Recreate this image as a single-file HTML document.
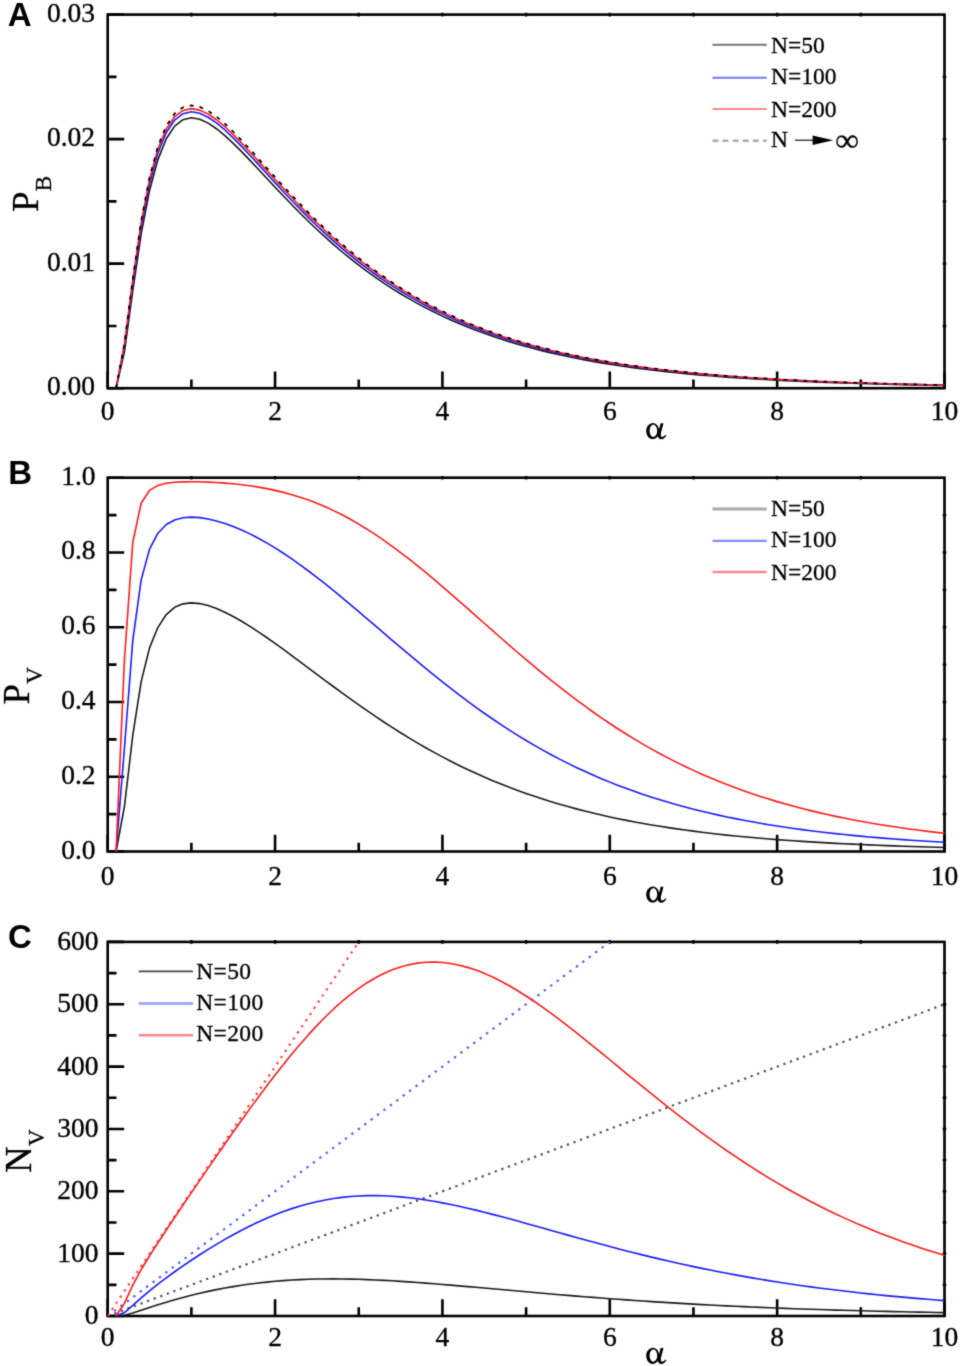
<!DOCTYPE html>
<html><head><meta charset="utf-8"><style>
html,body{margin:0;padding:0;background:#fff;}
svg{display:block;}
.tk{font-family:"Liberation Serif",serif;font-size:27.5px;fill:#000;stroke:#000;stroke-width:0.35px;}
.lg{font-family:"Liberation Serif",serif;font-size:23.5px;fill:#000;stroke:#000;stroke-width:0.3px;}
.lgc{letter-spacing:0.4px;}
.pl{font-family:"Liberation Sans",sans-serif;font-size:33px;font-weight:bold;fill:#000;}
.yl{font-family:"Liberation Serif",serif;font-size:37px;fill:#000;stroke:#000;stroke-width:0.3px;}
.ys{font-size:23.5px;}
</style></head><body>
<svg width="961" height="1366" viewBox="0 0 961 1366">
<defs><filter id="soft" x="0" y="0" width="961" height="1366" filterUnits="userSpaceOnUse" color-interpolation-filters="sRGB"><feConvolveMatrix order="3" kernelMatrix="1 2 1 2 16 2 1 2 1" divisor="28" edgeMode="duplicate"/></filter><clipPath id="clipC"><rect x="107.7" y="941.9" width="836.80" height="374.10"/></clipPath></defs>
<g filter="url(#soft)">
<rect width="961" height="1366" fill="#fff"/>
<rect x="107.7" y="14.6" width="836.80" height="373.60" fill="none" stroke="#000" stroke-width="2.6"/>
<path d="M107.70,388.2V371.50M191.38,388.2V379.40M275.06,388.2V371.50M358.74,388.2V379.40M442.42,388.2V371.50M526.10,388.2V379.40M609.78,388.2V371.50M693.46,388.2V379.40M777.14,388.2V371.50M860.82,388.2V379.40M944.50,388.2V371.50M107.7,388.20H124.20M107.7,263.67H124.20M107.7,139.13H124.20M107.7,14.60H124.20M107.7,325.93H116.50M107.7,201.40H116.50M107.7,76.87H116.50" stroke="#000" stroke-width="2.6" fill="none"/>
<path d="M191.38,12.80V16.40M275.06,12.80V16.40M358.74,12.80V16.40M442.42,12.80V16.40M526.10,12.80V16.40M609.78,12.80V16.40M693.46,12.80V16.40M777.14,12.80V16.40M860.82,12.80V16.40M942.70,263.67H946.30M942.70,139.13H946.30M942.70,325.93H946.30M942.70,201.40H946.30M942.70,76.87H946.30" stroke="#000" stroke-width="2.4" fill="none"/>
<text x="95.0" y="395.20" text-anchor="end" class="tk">0.00</text>
<text x="95.0" y="270.67" text-anchor="end" class="tk">0.01</text>
<text x="95.0" y="146.13" text-anchor="end" class="tk">0.02</text>
<text x="95.0" y="21.60" text-anchor="end" class="tk">0.03</text>
<text x="107.70" y="419.5" text-anchor="middle" class="tk">0</text>
<text x="275.06" y="419.5" text-anchor="middle" class="tk">2</text>
<text x="442.42" y="419.5" text-anchor="middle" class="tk">4</text>
<text x="609.78" y="419.5" text-anchor="middle" class="tk">6</text>
<text x="777.14" y="419.5" text-anchor="middle" class="tk">8</text>
<text x="944.50" y="419.5" text-anchor="middle" class="tk">10</text>
<path d="M116.07,388.20 L124.44,351.61 L132.80,290.48 L141.17,233.95 L149.54,190.47 L157.91,159.65 L166.28,138.78 L174.64,126.14 L183.01,119.69 L191.38,117.82 L199.75,119.28 L208.12,123.13 L216.48,128.73 L224.85,135.58 L233.22,143.32 L241.59,151.65 L249.96,160.36 L258.32,169.27 L266.69,178.25 L275.06,187.21 L283.43,196.06 L291.80,204.75 L300.16,213.24 L308.53,221.49 L316.90,229.47 L325.27,237.18 L333.64,244.61 L342.00,251.75 L350.37,258.59 L358.74,265.15 L367.11,271.42 L375.48,277.40 L383.84,283.12 L392.21,288.56 L400.58,293.75 L408.95,298.68 L417.32,303.37 L425.68,307.84 L434.05,312.08 L442.42,316.10 L450.79,319.92 L459.16,323.55 L467.52,326.99 L475.89,330.25 L484.26,333.34 L492.63,336.27 L501.00,339.05 L509.36,341.68 L517.73,344.17 L526.10,346.53 L534.47,348.77 L542.84,350.88 L551.20,352.89 L559.57,354.78 L567.94,356.58 L576.31,358.28 L584.68,359.88 L593.04,361.40 L601.41,362.84 L609.78,364.21 L618.15,365.49 L626.52,366.71 L634.88,367.87 L643.25,368.96 L651.62,369.99 L659.99,370.97 L668.36,371.89 L676.72,372.76 L685.09,373.59 L693.46,374.37 L701.83,375.11 L710.20,375.81 L718.56,376.48 L726.93,377.10 L735.30,377.69 L743.67,378.25 L752.04,378.79 L760.40,379.29 L768.77,379.76 L777.14,380.21 L785.51,380.64 L793.88,381.04 L802.24,381.42 L810.61,381.78 L818.98,382.12 L827.35,382.44 L835.72,382.74 L844.08,383.03 L852.45,383.31 L860.82,383.56 L869.19,383.81 L877.56,384.04 L885.92,384.26 L894.29,384.47 L902.66,384.66 L911.03,384.85 L919.40,385.02 L927.76,385.19 L936.13,385.35 L944.50,385.50" fill="none" stroke="#1a1a1a" stroke-width="1.6" stroke-linejoin="round"/>
<path d="M116.07,388.20 L124.44,346.63 L132.80,284.06 L141.17,227.23 L149.54,183.75 L157.91,153.01 L166.28,132.50 L174.64,120.05 L183.01,113.67 L191.38,111.82 L199.75,113.31 L208.12,117.24 L216.48,122.96 L224.85,129.96 L233.22,137.86 L241.59,146.37 L249.96,155.26 L258.32,164.35 L266.69,173.52 L275.06,182.65 L283.43,191.68 L291.80,200.54 L300.16,209.18 L308.53,217.59 L316.90,225.72 L325.27,233.57 L333.64,241.14 L342.00,248.40 L350.37,255.37 L358.74,262.04 L367.11,268.41 L375.48,274.51 L383.84,280.32 L392.21,285.86 L400.58,291.13 L408.95,296.15 L417.32,300.93 L425.68,305.47 L434.05,309.78 L442.42,313.88 L450.79,317.76 L459.16,321.46 L467.52,324.96 L475.89,328.28 L484.26,331.43 L492.63,334.41 L501.00,337.24 L509.36,339.93 L517.73,342.47 L526.10,344.88 L534.47,347.16 L542.84,349.32 L551.20,351.37 L559.57,353.31 L567.94,355.14 L576.31,356.88 L584.68,358.53 L593.04,360.09 L601.41,361.56 L609.78,362.96 L618.15,364.28 L626.52,365.54 L634.88,366.72 L643.25,367.85 L651.62,368.91 L659.99,369.92 L668.36,370.87 L676.72,371.77 L685.09,372.63 L693.46,373.44 L701.83,374.20 L710.20,374.93 L718.56,375.62 L726.93,376.27 L735.30,376.89 L743.67,377.47 L752.04,378.02 L760.40,378.55 L768.77,379.04 L777.14,379.51 L785.51,379.96 L793.88,380.38 L802.24,380.78 L810.61,381.16 L818.98,381.52 L827.35,381.86 L835.72,382.18 L844.08,382.49 L852.45,382.78 L860.82,383.05 L869.19,383.31 L877.56,383.56 L885.92,383.79 L894.29,384.01 L902.66,384.22 L911.03,384.42 L919.40,384.61 L927.76,384.79 L936.13,384.96 L944.50,385.12" fill="none" stroke="#1a1aff" stroke-width="1.6" stroke-linejoin="round"/>
<path d="M116.07,388.20 L124.44,343.79 L132.80,279.93 L141.17,222.84 L149.54,179.52 L157.91,149.05 L166.28,128.91 L174.64,116.69 L183.01,110.42 L191.38,108.61 L199.75,110.10 L208.12,114.02 L216.48,119.74 L224.85,126.73 L233.22,134.64 L241.59,143.15 L249.96,152.05 L258.32,161.16 L266.69,170.35 L275.06,179.52 L283.43,188.59 L291.80,197.49 L300.16,206.19 L308.53,214.65 L316.90,222.84 L325.27,230.76 L333.64,238.39 L342.00,245.73 L350.37,252.77 L358.74,259.51 L367.11,265.97 L375.48,272.14 L383.84,278.03 L392.21,283.65 L400.58,289.00 L408.95,294.10 L417.32,298.95 L425.68,303.57 L434.05,307.96 L442.42,312.13 L450.79,316.10 L459.16,319.86 L467.52,323.43 L475.89,326.82 L484.26,330.04 L492.63,333.09 L501.00,335.98 L509.36,338.73 L517.73,341.33 L526.10,343.79 L534.47,346.13 L542.84,348.35 L551.20,350.44 L559.57,352.43 L567.94,354.32 L576.31,356.10 L584.68,357.79 L593.04,359.39 L601.41,360.91 L609.78,362.34 L618.15,363.70 L626.52,364.99 L634.88,366.21 L643.25,367.37 L651.62,368.46 L659.99,369.50 L668.36,370.48 L676.72,371.41 L685.09,372.28 L693.46,373.12 L701.83,373.91 L710.20,374.65 L718.56,375.36 L726.93,376.03 L735.30,376.67 L743.67,377.27 L752.04,377.84 L760.40,378.37 L768.77,378.88 L777.14,379.37 L785.51,379.83 L793.88,380.26 L802.24,380.67 L810.61,381.06 L818.98,381.43 L827.35,381.78 L835.72,382.11 L844.08,382.42 L852.45,382.72 L860.82,383.00 L869.19,383.27 L877.56,383.52 L885.92,383.76 L894.29,383.99 L902.66,384.20 L911.03,384.41 L919.40,384.60 L927.76,384.78 L936.13,384.96 L944.50,385.12" fill="none" stroke="#ff1a1a" stroke-width="1.6" stroke-linejoin="round"/>
<path d="M116.07,388.20 L124.44,343.29 L132.80,278.69 L141.17,220.95 L149.54,177.13 L157.91,146.31 L166.28,125.94 L174.64,113.58 L183.01,107.24 L191.38,105.40 L199.75,106.91 L208.12,110.88 L216.48,116.66 L224.85,123.74 L233.22,131.73 L241.59,140.34 L249.96,149.34 L258.32,158.56 L266.69,167.86 L275.06,177.13 L283.43,186.30 L291.80,195.30 L300.16,204.10 L308.53,212.66 L316.90,220.95 L325.27,228.96 L333.64,236.67 L342.00,244.09 L350.37,251.21 L358.74,258.04 L367.11,264.57 L375.48,270.81 L383.84,276.76 L392.21,282.45 L400.58,287.86 L408.95,293.02 L417.32,297.93 L425.68,302.60 L434.05,307.04 L442.42,311.26 L450.79,315.27 L459.16,319.08 L467.52,322.69 L475.89,326.12 L484.26,329.37 L492.63,332.46 L501.00,335.39 L509.36,338.16 L517.73,340.79 L526.10,343.29 L534.47,345.65 L542.84,347.89 L551.20,350.01 L559.57,352.02 L567.94,353.93 L576.31,355.73 L584.68,357.44 L593.04,359.06 L601.41,360.59 L609.78,362.05 L618.15,363.42 L626.52,364.73 L634.88,365.96 L643.25,367.13 L651.62,368.23 L659.99,369.28 L668.36,370.27 L676.72,371.21 L685.09,372.10 L693.46,372.94 L701.83,373.74 L710.20,374.50 L718.56,375.21 L726.93,375.89 L735.30,376.53 L743.67,377.14 L752.04,377.72 L760.40,378.26 L768.77,378.78 L777.14,379.27 L785.51,379.73 L793.88,380.17 L802.24,380.58 L810.61,380.98 L818.98,381.35 L827.35,381.70 L835.72,382.04 L844.08,382.36 L852.45,382.66 L860.82,382.94 L869.19,383.21 L877.56,383.47 L885.92,383.71 L894.29,383.94 L902.66,384.16 L911.03,384.36 L919.40,384.56 L927.76,384.75 L936.13,384.92 L944.50,385.09" fill="none" stroke="#000" stroke-width="1.7" stroke-dasharray="4 6"/>
<rect x="107.7" y="477.7" width="836.80" height="373.80" fill="none" stroke="#000" stroke-width="2.6"/>
<path d="M107.70,851.5V834.80M191.38,851.5V842.70M275.06,851.5V834.80M358.74,851.5V842.70M442.42,851.5V834.80M526.10,851.5V842.70M609.78,851.5V834.80M693.46,851.5V842.70M777.14,851.5V834.80M860.82,851.5V842.70M944.50,851.5V834.80M107.7,851.50H124.20M107.7,776.74H124.20M107.7,701.98H124.20M107.7,627.22H124.20M107.7,552.46H124.20M107.7,477.70H124.20M107.7,814.12H116.50M107.7,739.36H116.50M107.7,664.60H116.50M107.7,589.84H116.50M107.7,515.08H116.50" stroke="#000" stroke-width="2.6" fill="none"/>
<path d="M191.38,475.90V479.50M275.06,475.90V479.50M358.74,475.90V479.50M442.42,475.90V479.50M526.10,475.90V479.50M609.78,475.90V479.50M693.46,475.90V479.50M777.14,475.90V479.50M860.82,475.90V479.50M942.70,776.74H946.30M942.70,701.98H946.30M942.70,627.22H946.30M942.70,552.46H946.30M942.70,814.12H946.30M942.70,739.36H946.30M942.70,664.60H946.30M942.70,589.84H946.30M942.70,515.08H946.30" stroke="#000" stroke-width="2.4" fill="none"/>
<text x="95.5" y="858.50" text-anchor="end" class="tk">0.0</text>
<text x="95.5" y="783.74" text-anchor="end" class="tk">0.2</text>
<text x="95.5" y="708.98" text-anchor="end" class="tk">0.4</text>
<text x="95.5" y="634.22" text-anchor="end" class="tk">0.6</text>
<text x="95.5" y="559.46" text-anchor="end" class="tk">0.8</text>
<text x="95.5" y="484.70" text-anchor="end" class="tk">1.0</text>
<text x="107.70" y="884.5" text-anchor="middle" class="tk">0</text>
<text x="275.06" y="884.5" text-anchor="middle" class="tk">2</text>
<text x="442.42" y="884.5" text-anchor="middle" class="tk">4</text>
<text x="609.78" y="884.5" text-anchor="middle" class="tk">6</text>
<text x="777.14" y="884.5" text-anchor="middle" class="tk">8</text>
<text x="944.50" y="884.5" text-anchor="middle" class="tk">10</text>
<path d="M116.07,851.50 L124.44,806.47 L132.80,735.14 L141.17,681.67 L149.54,647.92 L157.91,627.32 L166.28,614.52 L174.64,607.34 L183.01,603.84 L191.38,602.84 L199.75,603.58 L208.12,605.56 L216.48,608.49 L224.85,612.17 L233.22,616.44 L241.59,621.20 L249.96,626.35 L258.32,631.81 L266.69,637.51 L275.06,643.41 L283.43,649.46 L291.80,655.61 L300.16,661.82 L308.53,668.07 L316.90,674.33 L325.27,680.56 L333.64,686.75 L342.00,692.88 L350.37,698.92 L358.74,704.87 L367.11,710.71 L375.48,716.42 L383.84,722.01 L392.21,727.45 L400.58,732.75 L408.95,737.89 L417.32,742.88 L425.68,747.71 L434.05,752.39 L442.42,756.90 L450.79,761.25 L459.16,765.44 L467.52,769.47 L475.89,773.35 L484.26,777.07 L492.63,780.65 L501.00,784.07 L509.36,787.35 L517.73,790.49 L526.10,793.49 L534.47,796.36 L542.84,799.10 L551.20,801.72 L559.57,804.21 L567.94,806.59 L576.31,808.86 L584.68,811.02 L593.04,813.08 L601.41,815.04 L609.78,816.91 L618.15,818.68 L626.52,820.37 L634.88,821.97 L643.25,823.49 L651.62,824.94 L659.99,826.32 L668.36,827.62 L676.72,828.86 L685.09,830.04 L693.46,831.16 L701.83,832.22 L710.20,833.22 L718.56,834.18 L726.93,835.08 L735.30,835.94 L743.67,836.75 L752.04,837.52 L760.40,838.26 L768.77,838.95 L777.14,839.61 L785.51,840.23 L793.88,840.82 L802.24,841.38 L810.61,841.91 L818.98,842.41 L827.35,842.89 L835.72,843.34 L844.08,843.76 L852.45,844.17 L860.82,844.55 L869.19,844.92 L877.56,845.26 L885.92,845.59 L894.29,845.89 L902.66,846.19 L911.03,846.46 L919.40,846.73 L927.76,846.98 L936.13,847.21 L944.50,847.43" fill="none" stroke="#1a1a1a" stroke-width="1.6" stroke-linejoin="round"/>
<path d="M116.07,851.50 L124.44,748.01 L132.80,640.37 L141.17,579.86 L149.54,549.19 L157.91,533.21 L166.28,524.53 L174.64,519.94 L183.01,517.77 L191.38,517.16 L199.75,517.64 L208.12,518.94 L216.48,520.91 L224.85,523.44 L233.22,526.47 L241.59,529.97 L249.96,533.89 L258.32,538.20 L266.69,542.89 L275.06,547.92 L283.43,553.27 L291.80,558.91 L300.16,564.83 L308.53,570.99 L316.90,577.38 L325.27,583.95 L333.64,590.70 L342.00,597.57 L350.37,604.56 L358.74,611.64 L367.11,618.77 L375.48,625.94 L383.84,633.11 L392.21,640.28 L400.58,647.40 L408.95,654.48 L417.32,661.48 L425.68,668.40 L434.05,675.20 L442.42,681.90 L450.79,688.46 L459.16,694.89 L467.52,701.16 L475.89,707.28 L484.26,713.24 L492.63,719.03 L501.00,724.65 L509.36,730.10 L517.73,735.37 L526.10,740.47 L534.47,745.40 L542.84,750.14 L551.20,754.72 L559.57,759.12 L567.94,763.36 L576.31,767.43 L584.68,771.33 L593.04,775.08 L601.41,778.67 L609.78,782.12 L618.15,785.41 L626.52,788.56 L634.88,791.58 L643.25,794.46 L651.62,797.21 L659.99,799.84 L668.36,802.35 L676.72,804.74 L685.09,807.02 L693.46,809.20 L701.83,811.27 L710.20,813.25 L718.56,815.13 L726.93,816.92 L735.30,818.63 L743.67,820.25 L752.04,821.80 L760.40,823.27 L768.77,824.67 L777.14,826.00 L785.51,827.26 L793.88,828.46 L802.24,829.61 L810.61,830.69 L818.98,831.73 L827.35,832.71 L835.72,833.64 L844.08,834.53 L852.45,835.37 L860.82,836.17 L869.19,836.93 L877.56,837.65 L885.92,838.33 L894.29,838.99 L902.66,839.60 L911.03,840.19 L919.40,840.75 L927.76,841.28 L936.13,841.78 L944.50,842.26" fill="none" stroke="#1a1aff" stroke-width="1.6" stroke-linejoin="round"/>
<path d="M116.07,851.50 L124.44,659.63 L132.80,542.28 L141.17,503.29 L149.54,490.38 L157.91,485.43 L166.28,483.28 L174.64,482.28 L183.01,481.83 L191.38,481.71 L199.75,481.81 L208.12,482.08 L216.48,482.51 L224.85,483.09 L233.22,483.82 L241.59,484.73 L249.96,485.82 L258.32,487.11 L266.69,488.62 L275.06,490.38 L283.43,492.38 L291.80,494.66 L300.16,497.23 L308.53,500.10 L316.90,503.29 L325.27,506.80 L333.64,510.63 L342.00,514.79 L350.37,519.27 L358.74,524.08 L367.11,529.20 L375.48,534.62 L383.84,540.32 L392.21,546.30 L400.58,552.52 L408.95,558.97 L417.32,565.62 L425.68,572.46 L434.05,579.45 L442.42,586.57 L450.79,593.80 L459.16,601.10 L467.52,608.47 L475.89,615.86 L484.26,623.25 L492.63,630.64 L501.00,637.99 L509.36,645.28 L517.73,652.50 L526.10,659.63 L534.47,666.66 L542.84,673.57 L551.20,680.35 L559.57,686.99 L567.94,693.48 L576.31,699.81 L584.68,705.98 L593.04,711.99 L601.41,717.82 L609.78,723.48 L618.15,728.96 L626.52,734.26 L634.88,739.38 L643.25,744.33 L651.62,749.10 L659.99,753.70 L668.36,758.12 L676.72,762.38 L685.09,766.47 L693.46,770.40 L701.83,774.17 L710.20,777.78 L718.56,781.24 L726.93,784.56 L735.30,787.73 L743.67,790.76 L752.04,793.67 L760.40,796.44 L768.77,799.09 L777.14,801.62 L785.51,804.04 L793.88,806.34 L802.24,808.54 L810.61,810.63 L818.98,812.63 L827.35,814.53 L835.72,816.35 L844.08,818.07 L852.45,819.72 L860.82,821.28 L869.19,822.77 L877.56,824.19 L885.92,825.54 L894.29,826.82 L902.66,828.04 L911.03,829.20 L919.40,830.31 L927.76,831.36 L936.13,832.36 L944.50,833.30" fill="none" stroke="#ff1a1a" stroke-width="1.6" stroke-linejoin="round"/>
<rect x="107.7" y="941.9" width="836.80" height="374.10" fill="none" stroke="#000" stroke-width="2.6"/>
<path d="M107.70,1316.0V1299.30M191.38,1316.0V1307.20M275.06,1316.0V1299.30M358.74,1316.0V1307.20M442.42,1316.0V1299.30M526.10,1316.0V1307.20M609.78,1316.0V1299.30M693.46,1316.0V1307.20M777.14,1316.0V1299.30M860.82,1316.0V1307.20M944.50,1316.0V1299.30M107.7,1316.00H124.20M107.7,1253.65H124.20M107.7,1191.30H124.20M107.7,1128.95H124.20M107.7,1066.60H124.20M107.7,1004.25H124.20M107.7,941.90H124.20M107.7,1284.83H116.50M107.7,1222.47H116.50M107.7,1160.12H116.50M107.7,1097.78H116.50M107.7,1035.42H116.50M107.7,973.08H116.50" stroke="#000" stroke-width="2.6" fill="none"/>
<path d="M191.38,940.10V943.70M275.06,940.10V943.70M358.74,940.10V943.70M442.42,940.10V943.70M526.10,940.10V943.70M609.78,940.10V943.70M693.46,940.10V943.70M777.14,940.10V943.70M860.82,940.10V943.70M942.70,1253.65H946.30M942.70,1191.30H946.30M942.70,1128.95H946.30M942.70,1066.60H946.30M942.70,1004.25H946.30M942.70,1284.83H946.30M942.70,1222.47H946.30M942.70,1160.12H946.30M942.70,1097.78H946.30M942.70,1035.42H946.30M942.70,973.08H946.30" stroke="#000" stroke-width="2.4" fill="none"/>
<text x="98.5" y="1324.00" text-anchor="end" class="tk">0</text>
<text x="98.5" y="1261.65" text-anchor="end" class="tk">100</text>
<text x="98.5" y="1199.30" text-anchor="end" class="tk">200</text>
<text x="98.5" y="1136.95" text-anchor="end" class="tk">300</text>
<text x="98.5" y="1074.60" text-anchor="end" class="tk">400</text>
<text x="98.5" y="1012.25" text-anchor="end" class="tk">500</text>
<text x="98.5" y="949.90" text-anchor="end" class="tk">600</text>
<text x="107.70" y="1346.0" text-anchor="middle" class="tk">0</text>
<text x="275.06" y="1346.0" text-anchor="middle" class="tk">2</text>
<text x="442.42" y="1346.0" text-anchor="middle" class="tk">4</text>
<text x="609.78" y="1346.0" text-anchor="middle" class="tk">6</text>
<text x="777.14" y="1346.0" text-anchor="middle" class="tk">8</text>
<text x="944.50" y="1346.0" text-anchor="middle" class="tk">10</text>
<g clip-path="url(#clipC)">
<line x1="107.70" y1="1316.00" x2="944.50" y2="1004.25" stroke="#555" stroke-width="2.2" stroke-dasharray="2.3 4.7"/>
<line x1="107.70" y1="1316.00" x2="609.78" y2="941.90" stroke="#55f" stroke-width="2.2" stroke-dasharray="2.3 5.7"/>
<line x1="107.70" y1="1316.00" x2="358.74" y2="941.90" stroke="#f44" stroke-width="2.2" stroke-dasharray="2.3 5.1"/>
</g>
<path d="M116.07,1316.00 L124.44,1315.25 L132.80,1313.09 L141.17,1310.33 L149.54,1307.51 L157.91,1304.78 L166.28,1302.17 L174.64,1299.71 L183.01,1297.41 L191.38,1295.26 L199.75,1293.26 L208.12,1291.39 L216.48,1289.65 L224.85,1288.06 L233.22,1286.59 L241.59,1285.27 L249.96,1284.08 L258.32,1283.02 L266.69,1282.09 L275.06,1281.29 L283.43,1280.61 L291.80,1280.06 L300.16,1279.62 L308.53,1279.29 L316.90,1279.06 L325.27,1278.93 L333.64,1278.90 L342.00,1278.96 L350.37,1279.10 L358.74,1279.31 L367.11,1279.60 L375.48,1279.95 L383.84,1280.36 L392.21,1280.82 L400.58,1281.34 L408.95,1281.89 L417.32,1282.48 L425.68,1283.11 L434.05,1283.76 L442.42,1284.44 L450.79,1285.14 L459.16,1285.85 L467.52,1286.58 L475.89,1287.32 L484.26,1288.07 L492.63,1288.82 L501.00,1289.57 L509.36,1290.32 L517.73,1291.07 L526.10,1291.81 L534.47,1292.55 L542.84,1293.28 L551.20,1293.99 L559.57,1294.70 L567.94,1295.40 L576.31,1296.09 L584.68,1296.76 L593.04,1297.42 L601.41,1298.06 L609.78,1298.69 L618.15,1299.30 L626.52,1299.90 L634.88,1300.48 L643.25,1301.05 L651.62,1301.60 L659.99,1302.14 L668.36,1302.66 L676.72,1303.16 L685.09,1303.65 L693.46,1304.12 L701.83,1304.58 L710.20,1305.02 L718.56,1305.45 L726.93,1305.87 L735.30,1306.27 L743.67,1306.65 L752.04,1307.03 L760.40,1307.38 L768.77,1307.73 L777.14,1308.06 L785.51,1308.39 L793.88,1308.70 L802.24,1308.99 L810.61,1309.28 L818.98,1309.56 L827.35,1309.82 L835.72,1310.08 L844.08,1310.32 L852.45,1310.56 L860.82,1310.79 L869.19,1311.00 L877.56,1311.21 L885.92,1311.41 L894.29,1311.61 L902.66,1311.79 L911.03,1311.97 L919.40,1312.14 L927.76,1312.30 L936.13,1312.46 L944.50,1312.61" fill="none" stroke="#1a1a1a" stroke-width="1.6" stroke-linejoin="round"/>
<path d="M116.07,1316.00 L124.44,1312.55 L132.80,1305.44 L141.17,1297.88 L149.54,1290.79 L157.91,1284.15 L166.28,1277.82 L174.64,1271.76 L183.01,1265.90 L191.38,1260.23 L199.75,1254.74 L208.12,1249.44 L216.48,1244.31 L224.85,1239.39 L233.22,1234.68 L241.59,1230.19 L249.96,1225.94 L258.32,1221.94 L266.69,1218.19 L275.06,1214.72 L283.43,1211.53 L291.80,1208.63 L300.16,1206.02 L308.53,1203.71 L316.90,1201.69 L325.27,1199.97 L333.64,1198.54 L342.00,1197.41 L350.37,1196.55 L358.74,1195.97 L367.11,1195.66 L375.48,1195.60 L383.84,1195.79 L392.21,1196.21 L400.58,1196.85 L408.95,1197.69 L417.32,1198.73 L425.68,1199.94 L434.05,1201.32 L442.42,1202.84 L450.79,1204.50 L459.16,1206.28 L467.52,1208.17 L475.89,1210.15 L484.26,1212.22 L492.63,1214.36 L501.00,1216.56 L509.36,1218.80 L517.73,1221.09 L526.10,1223.40 L534.47,1225.74 L542.84,1228.09 L551.20,1230.44 L559.57,1232.79 L567.94,1235.14 L576.31,1237.47 L584.68,1239.78 L593.04,1242.07 L601.41,1244.33 L609.78,1246.56 L618.15,1248.75 L626.52,1250.91 L634.88,1253.03 L643.25,1255.11 L651.62,1257.14 L659.99,1259.13 L668.36,1261.07 L676.72,1262.97 L685.09,1264.81 L693.46,1266.61 L701.83,1268.36 L710.20,1270.06 L718.56,1271.72 L726.93,1273.32 L735.30,1274.88 L743.67,1276.39 L752.04,1277.85 L760.40,1279.27 L768.77,1280.64 L777.14,1281.97 L785.51,1283.25 L793.88,1284.49 L802.24,1285.69 L810.61,1286.85 L818.98,1287.96 L827.35,1289.04 L835.72,1290.08 L844.08,1291.08 L852.45,1292.05 L860.82,1292.98 L869.19,1293.88 L877.56,1294.74 L885.92,1295.58 L894.29,1296.38 L902.66,1297.15 L911.03,1297.89 L919.40,1298.61 L927.76,1299.29 L936.13,1299.95 L944.50,1300.59" fill="none" stroke="#1a1aff" stroke-width="1.6" stroke-linejoin="round"/>
<path d="M116.07,1316.00 L124.44,1303.20 L132.80,1285.05 L141.17,1269.53 L149.54,1255.76 L157.91,1242.73 L166.28,1230.01 L174.64,1217.46 L183.01,1205.01 L191.38,1192.64 L199.75,1180.34 L208.12,1168.11 L216.48,1155.97 L224.85,1143.94 L233.22,1132.01 L241.59,1120.23 L249.96,1108.61 L258.32,1097.19 L266.69,1085.99 L275.06,1075.06 L283.43,1064.42 L291.80,1054.11 L300.16,1044.18 L308.53,1034.66 L316.90,1025.59 L325.27,1017.02 L333.64,1008.97 L342.00,1001.48 L350.37,994.59 L358.74,988.32 L367.11,982.69 L375.48,977.72 L383.84,973.43 L392.21,969.82 L400.58,966.91 L408.95,964.68 L417.32,963.14 L425.68,962.26 L434.05,962.05 L442.42,962.48 L450.79,963.53 L459.16,965.17 L467.52,967.37 L475.89,970.11 L484.26,973.36 L492.63,977.07 L501.00,981.23 L509.36,985.78 L517.73,990.71 L526.10,995.96 L534.47,1001.52 L542.84,1007.33 L551.20,1013.39 L559.57,1019.64 L567.94,1026.06 L576.31,1032.62 L584.68,1039.30 L593.04,1046.06 L601.41,1052.88 L609.78,1059.75 L618.15,1066.63 L626.52,1073.51 L634.88,1080.37 L643.25,1087.19 L651.62,1093.96 L659.99,1100.67 L668.36,1107.29 L676.72,1113.83 L685.09,1120.27 L693.46,1126.61 L701.83,1132.83 L710.20,1138.93 L718.56,1144.90 L726.93,1150.74 L735.30,1156.44 L743.67,1162.01 L752.04,1167.44 L760.40,1172.73 L768.77,1177.88 L777.14,1182.88 L785.51,1187.74 L793.88,1192.46 L802.24,1197.04 L810.61,1201.48 L818.98,1205.78 L827.35,1209.94 L835.72,1213.97 L844.08,1217.87 L852.45,1221.63 L860.82,1225.27 L869.19,1228.79 L877.56,1232.18 L885.92,1235.45 L894.29,1238.61 L902.66,1241.66 L911.03,1244.59 L919.40,1247.42 L927.76,1250.15 L936.13,1252.77 L944.50,1255.30" fill="none" stroke="#ff1a1a" stroke-width="1.6" stroke-linejoin="round"/>
<line x1="712.5" y1="44.8" x2="766.7" y2="44.8" stroke="#777" stroke-width="2"/>
<text x="771.0" y="52.5" class="lg">N=50</text>
<line x1="712.5" y1="77.75" x2="766.7" y2="77.75" stroke="#77f" stroke-width="2"/>
<text x="771.0" y="83.7" class="lg">N=100</text>
<line x1="712.5" y1="108.9" x2="766.7" y2="108.9" stroke="#f88" stroke-width="2"/>
<text x="771.0" y="117.0" class="lg">N=200</text>
<line x1="712.5" y1="140.8" x2="766.7" y2="140.8" stroke="#aaa" stroke-width="2.4" stroke-dasharray="5.8 4.3"/>
<text x="771.0" y="147.2" class="lg">N</text>
<line x1="795" y1="140.2" x2="815" y2="140.2" stroke="#000" stroke-width="1.1"/>
<path d="M812.6,135.6 L833.2,140.3 L812.6,145.0 Z" fill="#000"/>
<text x="835.5" y="151.4" class="lg" style="font-size:32.5px;font-weight:bold">&#8734;</text>
<line x1="712.5" y1="509.0" x2="766.7" y2="509.0" stroke="#aaa" stroke-width="3"/>
<text x="771.0" y="516.0" class="lg">N=50</text>
<line x1="712.5" y1="540.9" x2="766.7" y2="540.9" stroke="#88f" stroke-width="2.4"/>
<text x="771.0" y="547.0" class="lg">N=100</text>
<line x1="712.5" y1="572.0" x2="766.7" y2="572.0" stroke="#f88" stroke-width="2.4"/>
<text x="771.0" y="580.2" class="lg">N=200</text>
<line x1="138.7" y1="971.3" x2="193.0" y2="971.3" stroke="#444" stroke-width="1.7"/>
<text x="196.2" y="979.3" class="lg lgc">N=50</text>
<line x1="138.7" y1="1003.5" x2="193.0" y2="1003.5" stroke="#aaf" stroke-width="3"/>
<text x="196.2" y="1010.3" class="lg lgc">N=100</text>
<line x1="138.7" y1="1035.2" x2="193.0" y2="1035.2" stroke="#f88" stroke-width="2.4"/>
<text x="196.2" y="1041.2" class="lg lgc">N=200</text>
<text x="7.8" y="25.6" class="pl">A</text>
<text x="8.3" y="483.6" class="pl">B</text>
<text x="8.0" y="947.8" class="pl">C</text>
<g transform="translate(646.3,423.0)" fill="#000"><path fill-rule="evenodd" d="M6.6,-0.1 C10.3,-0.1 13.0,3.6 13.0,7.9 C13.0,12.4 10.1,16.1 6.4,16.1 C2.7,16.1 -0.1,12.4 -0.1,8 C-0.1,3.6 2.9,-0.1 6.6,-0.1 Z M7.1,1.7 C5.0,1.7 3.3,4.4 3.3,7.8 C3.3,11.2 4.9,13.9 6.9,13.9 C9.1,13.9 10.9,11.2 10.9,7.8 C10.9,4.4 9.2,1.7 7.1,1.7 Z"/><path d="M14.3,0.3 L17.2,0.3 L14.6,10.0 C14.3,12.2 14.6,14.0 15.8,14.0 C16.9,14.0 18.2,13.0 19.4,11.8 L20.0,12.4 C18.6,14.4 17.2,16.2 15.2,16.2 C12.9,16.2 11.6,14.6 11.4,12.4 Z"/></g>
<g transform="translate(646.3,886.5)" fill="#000"><path fill-rule="evenodd" d="M6.6,-0.1 C10.3,-0.1 13.0,3.6 13.0,7.9 C13.0,12.4 10.1,16.1 6.4,16.1 C2.7,16.1 -0.1,12.4 -0.1,8 C-0.1,3.6 2.9,-0.1 6.6,-0.1 Z M7.1,1.7 C5.0,1.7 3.3,4.4 3.3,7.8 C3.3,11.2 4.9,13.9 6.9,13.9 C9.1,13.9 10.9,11.2 10.9,7.8 C10.9,4.4 9.2,1.7 7.1,1.7 Z"/><path d="M14.3,0.3 L17.2,0.3 L14.6,10.0 C14.3,12.2 14.6,14.0 15.8,14.0 C16.9,14.0 18.2,13.0 19.4,11.8 L20.0,12.4 C18.6,14.4 17.2,16.2 15.2,16.2 C12.9,16.2 11.6,14.6 11.4,12.4 Z"/></g>
<g transform="translate(646.3,1347.8)" fill="#000"><path fill-rule="evenodd" d="M6.6,-0.1 C10.3,-0.1 13.0,3.6 13.0,7.9 C13.0,12.4 10.1,16.1 6.4,16.1 C2.7,16.1 -0.1,12.4 -0.1,8 C-0.1,3.6 2.9,-0.1 6.6,-0.1 Z M7.1,1.7 C5.0,1.7 3.3,4.4 3.3,7.8 C3.3,11.2 4.9,13.9 6.9,13.9 C9.1,13.9 10.9,11.2 10.9,7.8 C10.9,4.4 9.2,1.7 7.1,1.7 Z"/><path d="M14.3,0.3 L17.2,0.3 L14.6,10.0 C14.3,12.2 14.6,14.0 15.8,14.0 C16.9,14.0 18.2,13.0 19.4,11.8 L20.0,12.4 C18.6,14.4 17.2,16.2 15.2,16.2 C12.9,16.2 11.6,14.6 11.4,12.4 Z"/></g>
<text transform="translate(38.0,212.0) rotate(-90)" class="yl">P<tspan class="ys" dy="12.5">B</tspan></text>
<text transform="translate(29.0,704.5) rotate(-90)" class="yl">P<tspan class="ys" dy="12.5">V</tspan></text>
<text transform="translate(31.0,1173.0) rotate(-90)" class="yl">N<tspan class="ys" dy="12.5">V</tspan></text>
</g>
</svg>
</body></html>
